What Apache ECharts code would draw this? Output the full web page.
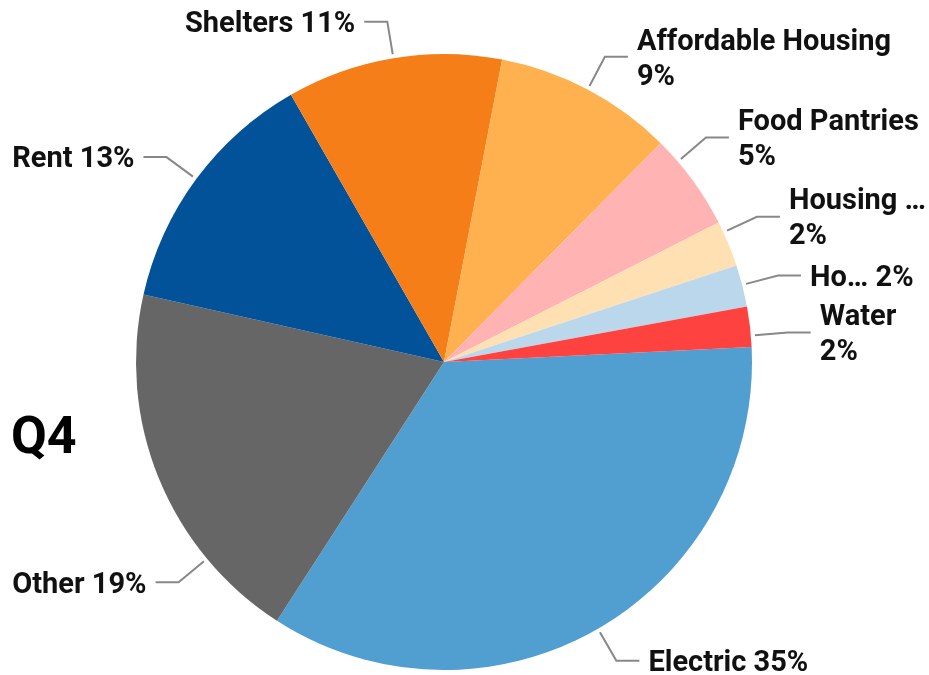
<!DOCTYPE html>
<html>
<head>
<meta charset="utf-8">
<script src="https://cdn.jsdelivr.net/npm/echarts@6/dist/echarts.min.js"></script>
<style>
html,body{margin:0;padding:0;background:#fff;}
#chart{width:929px;height:675px;}
</style>
</head>
<body>
<div id="chart"></div>
<script>
const categories = ["Electric", "Other", "Rent", "Shelters", "Affordable Housing", "Food Pantries", "Housing …", "Ho…", "Water"];
const values = [34.9, 19.4, 13.2, 11.3, 9.4, 5.1, 2.4, 2.2, 2.1];
const colors = ["#519fd1", "#666666", "#02529a", "#f67e18", "#ffb04f", "#ffb3b3", "#ffe0b3", "#bad7ec", "#fd4240"];
const twoLine = ["Affordable Housing", "Food Pantries", "Housing …", "Water"];

const CX = 444, CY = 362, R = 308, START = 2.8;
const OFF = 4, LEN = 37, LEN2 = 23, GAP = 9, TEXT_DY = 3;
// leader-line angles (degrees, counter-clockwise from 3 o'clock) for labels moved off their slice middle
const leaderAngle = {"Other": 219.7, "Food Pantries": 40.6, "Housing …": 24.9, "Ho…": 14.5, "Water": 4.9};

const total = values.reduce((a, b) => a + b, 0);
const midAngles = [];
values.reduce((cum, v) => { midAngles.push(START - 360 * (cum + v / 2) / total); return cum + v; }, 0);

const chart = echarts.init(document.getElementById('chart'));
chart.setOption({
  animation: false,
  title: {
    text: 'Q4', left: 6, top: 409,
    textStyle: {fontFamily: 'Roboto', fontWeight: 'bold', fontSize: 52, color: '#000'}
  },
  series: [{
    type: 'pie',
    center: [CX, CY],
    radius: R,
    startAngle: START,
    clockwise: true,
    avoidLabelOverlap: false,
    itemStyle: {borderWidth: 0},
    label: {
      show: true, overflow: 'none', distanceToLabelLine: GAP,
      fontFamily: 'Roboto', fontWeight: 'bold', fontSize: 29, color: '#111', lineHeight: 35,
      formatter: p => p.name + (twoLine.includes(p.name) ? '\n' : ' ') + Math.round(p.value) + '%'
    },
    labelLine: {show: true, length: LEN, length2: LEN2, lineStyle: {color: '#888', width: 2}},
    labelLayout: function (params) {
      const name = categories[params.dataIndex];
      const deg = leaderAngle[name] != null ? leaderAngle[name] : midAngles[params.dataIndex];
      const a = deg * Math.PI / 180;
      const cos = Math.cos(a), sin = -Math.sin(a);
      const dir = cos >= 0 ? 1 : -1;
      const p0 = [CX + (R + OFF) * cos, CY + (R + OFF) * sin];
      const p1 = [CX + (R + LEN) * cos, CY + (R + LEN) * sin];
      const p2 = [p1[0] + dir * LEN2, p1[1]];
      return {
        x: p2[0] + dir * GAP, y: p2[1] + TEXT_DY,
        align: dir > 0 ? 'left' : 'right', verticalAlign: 'middle',
        labelLinePoints: [p0, p1, p2]
      };
    },
    data: categories.map((c, i) => ({name: c, value: values[i], itemStyle: {color: colors[i]}}))
  }]
});
</script>
</body>
</html>
